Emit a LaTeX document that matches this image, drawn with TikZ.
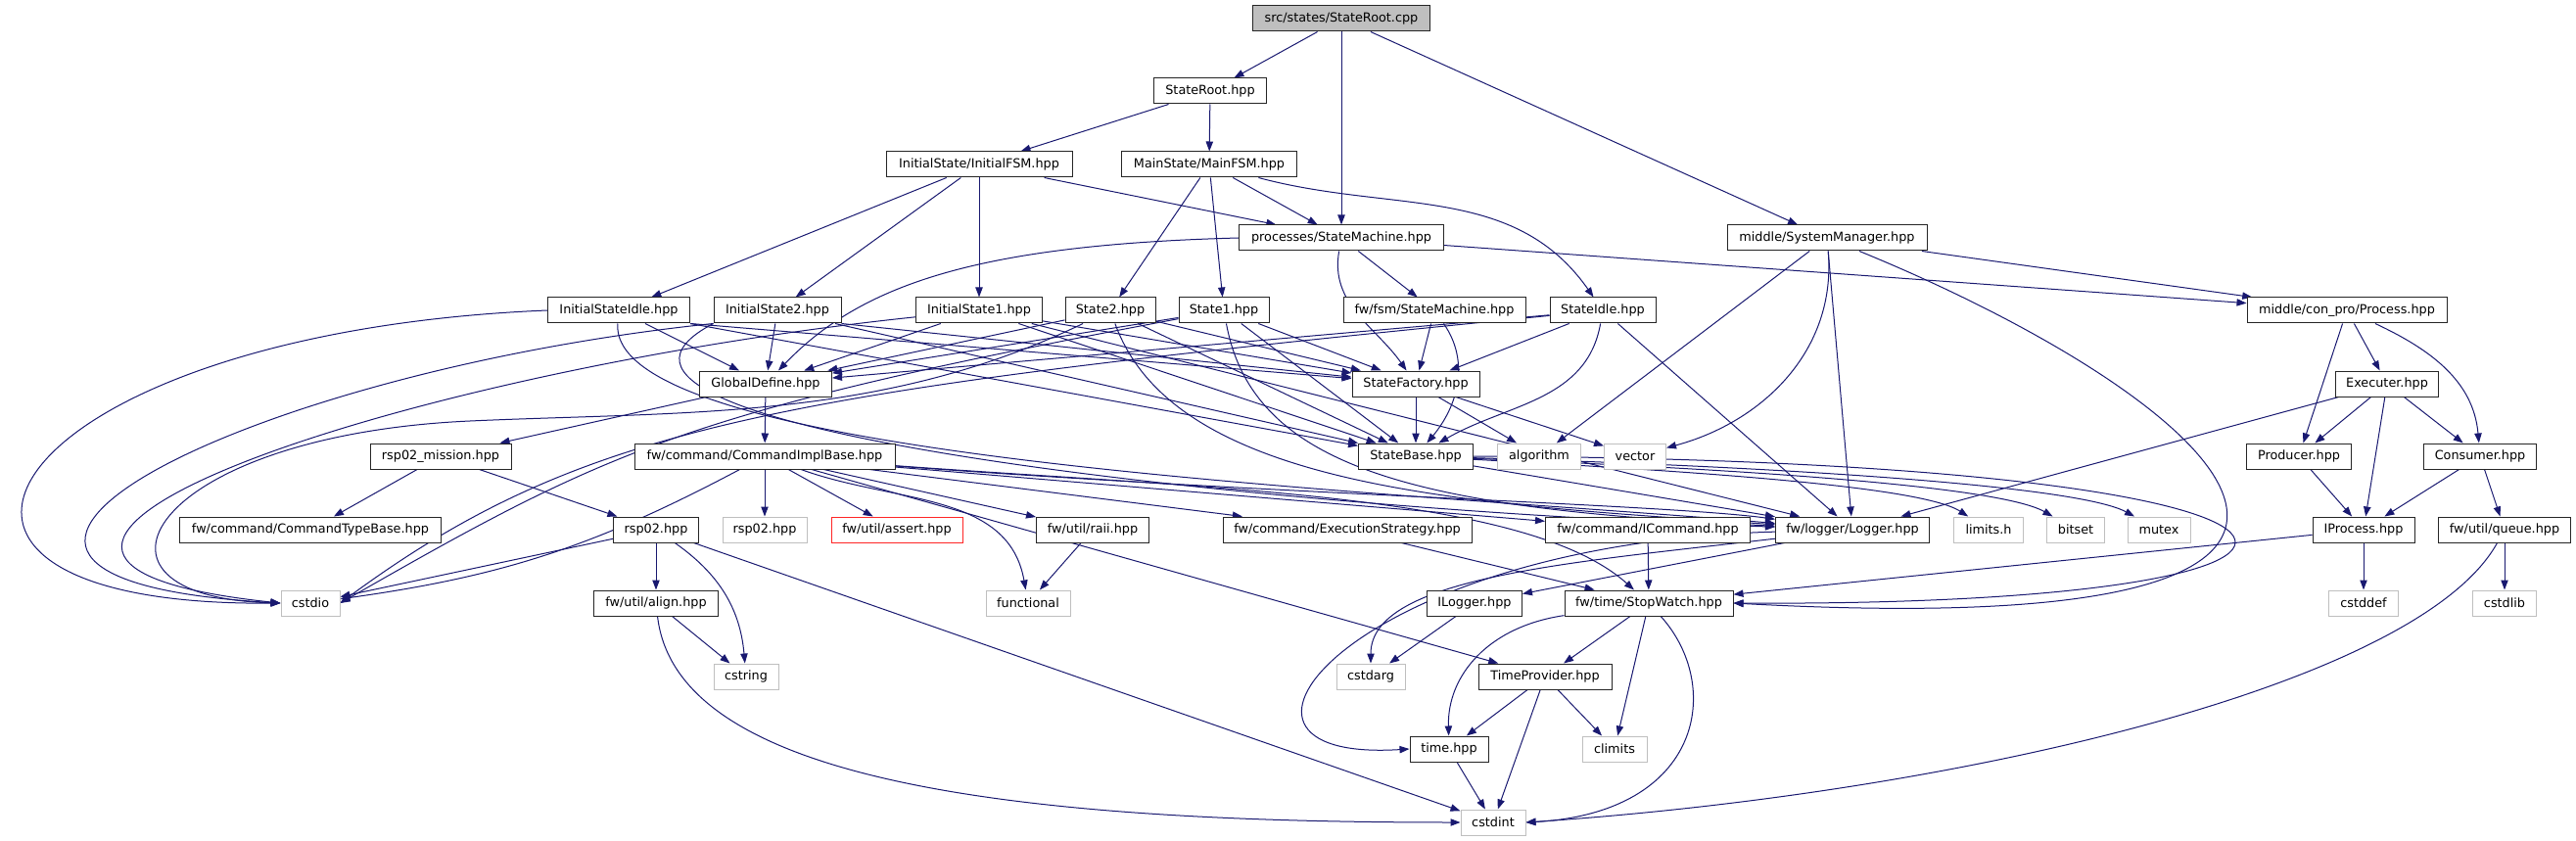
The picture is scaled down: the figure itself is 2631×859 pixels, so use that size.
\documentclass[tikz,border=0pt]{standalone}
\usepackage{fontspec}
\setmainfont{DejaVu Sans}
\usetikzlibrary{arrows.meta,backgrounds}

\definecolor{edgeblue}{HTML}{191970}
\definecolor{sysgray}{HTML}{BFBFBF}

\begin{document}
\begin{tikzpicture}[
  x=0.75pt, y=-0.75pt,
  font=\fontsize{9.6}{11}\selectfont,
  hdr/.style={draw=black!85, fill=white, line width=0.75pt, inner xsep=2pt, inner ysep=0pt,
    minimum height=19.5pt, minimum width=#1*0.75pt},
  syshdr/.style={hdr=#1, draw=sysgray},
  badhdr/.style={hdr=#1, draw=red!85},
  rootfile/.style={hdr=#1, fill=sysgray},
  inc/.style={draw=edgeblue, line width=0.75pt, -{Triangle[length=7.5pt,width=5.5pt]}}
]
\useasboundingbox (0,0) rectangle (2631,859);

% root and FSM headers
\node[rootfile=181] (root) at (1370,19) {src/states/StateRoot.cpp};
\node[hdr=115] (sroot) at (1236,93) {StateRoot.hpp};
\node[hdr=190] (ifsm) at (1000,168) {InitialState/InitialFSM.hpp};
\node[hdr=179] (mfsm) at (1235,168) {MainState/MainFSM.hpp};
\node[hdr=209] (psm) at (1370,243) {processes/StateMachine.hpp};
\node[hdr=204] (sysm) at (1866,243) {middle/SystemManager.hpp};

% states
\node[hdr=145] (isidle) at (632,317) {InitialStateIdle.hpp};
\node[hdr=130] (is2) at (794,317) {InitialState2.hpp};
\node[hdr=129] (is1) at (1000,317) {InitialState1.hpp};
\node[hdr=92] (s2) at (1134,317) {State2.hpp};
\node[hdr=92] (s1) at (1250,317) {State1.hpp};
\node[hdr=186] (fsm) at (1465,317) {fw/fsm/StateMachine.hpp};
\node[hdr=108] (sidle) at (1637,317) {StateIdle.hpp};
\node[hdr=204] (proc) at (2397,317) {middle/con\_pro/Process.hpp};

\node[hdr=135] (gdef) at (782,392) {GlobalDefine.hpp};
\node[hdr=130] (sfac) at (1446,392) {StateFactory.hpp};
\node[hdr=105] (exec) at (2438,392) {Executer.hpp};

\node[hdr=144] (mission) at (450,466) {rsp02\_mission.hpp};
\node[hdr=266] (cib) at (781,466) {fw/command/CommandImplBase.hpp};
\node[hdr=117] (sbase) at (1446,466) {StateBase.hpp};
\node[syshdr=85] (algo) at (1572,466) {algorithm};
\node[syshdr=63] (vec) at (1670,466) {vector};
\node[hdr=107] (prod) at (2348,466) {Producer.hpp};
\node[hdr=115] (cons) at (2533,466) {Consumer.hpp};

% framework headers
\node[hdr=267] (ctb) at (317,541) {fw/command/CommandTypeBase.hpp};
\node[hdr=87] (rsp) at (670,541) {rsp02.hpp};
\node[syshdr=86] (rspsys) at (781,541) {rsp02.hpp};
\node[badhdr=134] (assert) at (916,541) {fw/util/assert.hpp};
\node[hdr=115] (raii) at (1116,541) {fw/util/raii.hpp};
\node[hdr=254] (exs) at (1376,541) {fw/command/ExecutionStrategy.hpp};
\node[hdr=209] (icmd) at (1683,541) {fw/command/ICommand.hpp};
\node[hdr=157] (logger) at (1892,541) {fw/logger/Logger.hpp};
\node[syshdr=71] (limits) at (2031,541) {limits.h};
\node[syshdr=59] (bitset) at (2120,541) {bitset};
\node[syshdr=64] (mutex) at (2205,541) {mutex};
\node[hdr=104] (iproc) at (2414,541) {IProcess.hpp};
\node[hdr=135] (queue) at (2558,541) {fw/util/queue.hpp};

\node[syshdr=60] (cstdio) at (317,616) {cstdio};
\node[hdr=127] (align) at (670,616) {fw/util/align.hpp};
\node[syshdr=86] (functional) at (1050,616) {functional};
\node[hdr=97] (ilogger) at (1506,616) {ILogger.hpp};
\node[hdr=172] (sw) at (1684,616) {fw/time/StopWatch.hpp};
\node[syshdr=71] (cstddef) at (2414,616) {cstddef};
\node[syshdr=65] (cstdlib) at (2558,616) {cstdlib};

\node[syshdr=66] (cstring) at (762,691) {cstring};
\node[syshdr=70] (cstdarg) at (1400,691) {cstdarg};
\node[hdr=136] (tprov) at (1578,691) {TimeProvider.hpp};
\node[hdr=80] (timeh) at (1480,765) {time.hpp};
\node[syshdr=66] (climits) at (1649,765) {climits};
\node[syshdr=66] (cstdint) at (1525,840) {cstdint};

\begin{pgfonlayer}{background}
% top of the graph
\draw[inc] (root) -- (sroot);
\draw[inc] (root) -- (psm);
\draw[inc] (root) -- (sysm);
\draw[inc] (sroot) -- (ifsm);
\draw[inc] (sroot) -- (mfsm);
\draw[inc] (ifsm) -- (isidle);
\draw[inc] (ifsm) -- (is2);
\draw[inc] (ifsm) -- (is1);
\draw[inc] (ifsm) -- (psm);
\draw[inc] (mfsm) -- (s2);
\draw[inc] (mfsm) -- (s1);
\draw[inc] (mfsm) -- (psm);
\draw[inc] (mfsm) to[out=-15,in=125] (sidle);
\draw[inc] (psm.west) .. controls (1000,250) and (880,290) .. (gdef);
\draw[inc] (psm) -- (fsm);
\draw[inc] (psm) to[out=-100,in=125] (sfac);
\draw[inc] (psm) -- (proc);

% system manager and processes
\draw[inc] (sysm) -- (proc);
\draw[inc] (sysm) -- (algo);
\draw[inc] (sysm) to[out=-85,in=15] (vec);
\draw[inc] (sysm) -- (logger);
\draw[inc] (sysm) .. controls (2250,400) and (2580,660) .. (sw.east);
\draw[inc] (proc) -- (exec);
\draw[inc] (proc) -- (prod);
\draw[inc] (proc) to[out=-25,in=95] (cons);
\draw[inc] (exec) -- (prod);
\draw[inc] (exec) -- (iproc);
\draw[inc] (exec) -- (cons);
\draw[inc] (exec) -- (logger);
\draw[inc] (prod) -- (iproc);
\draw[inc] (cons) -- (iproc);
\draw[inc] (cons) -- (queue);
\draw[inc] (iproc) -- (cstddef);
\draw[inc] (iproc) -- (sw);
\draw[inc] (queue) -- (cstdlib);
\draw[inc] (queue) .. controls (2470,700) and (2000,810) .. (cstdint.east);

% states
\draw[inc] (isidle) -- (gdef);
\draw[inc] (isidle.south east) -- (sfac);
\draw[inc] (isidle.south east) -- (sbase);
\draw[inc] (isidle) .. controls (620,470) and (1400,500) .. (logger);
\draw[inc] (isidle.west) .. controls (0,340) and (-170,620) .. (cstdio.west);
\draw[inc] (is2) -- (gdef);
\draw[inc] (is2.south east) -- (sfac);
\draw[inc] (is2) -- (sbase);
\draw[inc] (is2.south west) .. controls (520,440) and (1300,520) .. (logger);
\draw[inc] (is2.south west) .. controls (250,380) and (-170,590) .. (cstdio.west);
\draw[inc] (is1) -- (gdef);
\draw[inc] (is1) -- (sfac);
\draw[inc] (is1) -- (sbase);
\draw[inc] (is1) -- (logger);
\draw[inc] (is1) .. controls (400,380) and (-150,570) .. (cstdio.west);
\draw[inc] (s2) -- (gdef);
\draw[inc] (s2) -- (sfac);
\draw[inc] (s2) -- (sbase);
\draw[inc] (s2) .. controls (1200,500) and (1500,515) .. (logger);
\draw[inc] (s2) .. controls (900,430) and (700,420) .. (480,430)
  .. controls (150,445) and (60,610) .. (cstdio.west);
\draw[inc] (s1) -- (gdef);
\draw[inc] (s1) -- (sfac);
\draw[inc] (s1) -- (sbase);
\draw[inc] (s1) .. controls (1280,480) and (1450,520) .. (logger);
\draw[inc] (s1) .. controls (700,420) and (620,460) .. (cstdio.east);
\draw[inc] (sidle) -- (gdef);
\draw[inc] (sidle) -- (sfac);
\draw[inc] (sidle) to[out=-100,in=30] (sbase);
\draw[inc] (sidle) -- (logger);
\draw[inc] (sidle) .. controls (800,400) and (600,430) .. (cstdio.east);

% factory and base
\draw[inc] (fsm) -- (sfac);
\draw[inc] (fsm) to[out=-55,in=50] (sbase);
\draw[inc] (sfac) -- (sbase);
\draw[inc] (sfac) -- (algo);
\draw[inc] (sfac) -- (vec);
\draw[inc] (sbase) -- (logger);
\draw[inc] (sbase) .. controls (1700,480) and (1960,495) .. (limits);
\draw[inc] (sbase) .. controls (1750,478) and (2040,495) .. (bitset);
\draw[inc] (sbase) .. controls (1800,476) and (2120,495) .. (mutex);
\draw[inc] (sbase.east) .. controls (2480,470) and (2500,620) .. (sw.east);

% commands
\draw[inc] (gdef) -- (mission);
\draw[inc] (gdef) -- (cib);
\draw[inc] (mission) -- (ctb);
\draw[inc] (mission) -- (rsp);
\draw[inc] (cib) to[bend left=10] (cstdio);
\draw[inc] (cib) -- (rspsys);
\draw[inc] (cib) -- (assert);
\draw[inc] (cib) to[out=-20,in=100] (functional);
\draw[inc] (cib) -- (raii);
\draw[inc] (cib) -- (exs);
\draw[inc] (cib) -- (icmd);
\draw[inc] (cib) .. controls (1300,505) and (1700,515) .. (logger);
\draw[inc] (cib) .. controls (1250,500) and (1560,505) .. (sw);
\draw[inc] (cib) -- (tprov);
\draw[inc] (raii) -- (functional);
\draw[inc] (rsp) -- (cstdio);
\draw[inc] (rsp) -- (align);
\draw[inc] (rsp) to[out=-35,in=95] (cstring);
\draw[inc] (rsp) -- (cstdint);
\draw[inc] (align) -- (cstring);
\draw[inc] (align) .. controls (690,790) and (1000,840) .. (cstdint);

% logger and time
\draw[inc] (logger) -- (ilogger);
\draw[inc] (logger) .. controls (1600,575) and (1400,590) .. (cstdarg);
\draw[inc] (logger) .. controls (1380,555) and (1200,780) .. (timeh.west);
\draw[inc] (ilogger) -- (cstdarg);
\draw[inc] (icmd) -- (sw);
\draw[inc] (exs) -- (sw);
\draw[inc] (sw) -- (tprov);
\draw[inc] (sw) .. controls (1520,640) and (1478,690) .. (timeh);
\draw[inc] (sw) -- (climits);
\draw[inc] (sw) .. controls (1760,700) and (1740,830) .. (cstdint.east);
\draw[inc] (tprov) -- (timeh);
\draw[inc] (tprov) -- (climits);
\draw[inc] (tprov) -- (cstdint);
\draw[inc] (timeh) -- (cstdint);
\end{pgfonlayer}
\end{tikzpicture}
\end{document}
